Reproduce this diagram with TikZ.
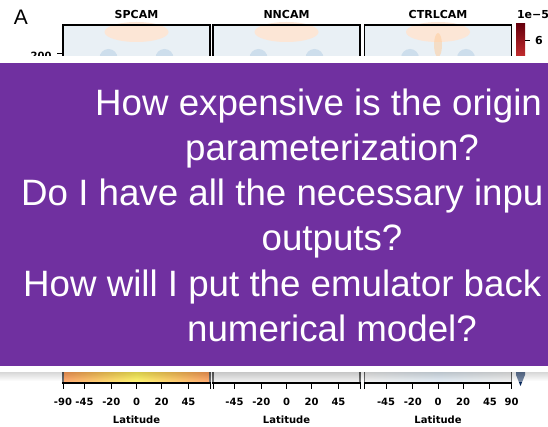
\documentclass[tikz,border=0pt]{standalone}
\usepackage{fontspec}
\setmainfont{Liberation Sans}
\newfontfamily\mplfont{DejaVu Sans}
\definecolor{slidepurple}{RGB}{112,48,160}
\definecolor{panelfill}{RGB}{233,240,245}
\definecolor{warmspot}{RGB}{252,230,214}
\definecolor{coolspot}{RGB}{205,222,236}
\definecolor{cbdark}{RGB}{103,0,13}
\definecolor{cbred}{RGB}{205,50,50}
\definecolor{cbblue}{RGB}{8,40,90}

\begin{document}
\begin{tikzpicture}
  [x=1pt,y=-1pt,
   panel/.style={draw=black,line width=1.3pt},
   title/.style={font=\mplfont\bfseries\fontsize{11}{13}\selectfont},
   ticklab/.style={font=\mplfont\bfseries\fontsize{10}{12}\selectfont},
   question/.style={text=white,inner sep=0pt,font=\fontsize{36.7}{44}\selectfont}]
  \useasboundingbox (0,0) rectangle (548,427);

  % the three maps
  \foreach \c in {136.5,286.5,438} {
    \fill[panelfill] (\c-73.5,25) rectangle (\c+73.5,383);
    \fill[warmspot] (\c,32) ellipse (32 and 10);
    \fill[coolspot] (\c-28,58) circle (9);
    \fill[coolspot] (\c+28,58) circle (9);
  }
  \fill[orange!40,opacity=.5] (438,45) ellipse (4 and 12);
  \shade[left color=orange!80!red,right color=orange!80!red,middle color=yellow!85!orange]
    (63,372) rectangle (210,383);
  \fill[gray!22] (213,372) rectangle (360,383);
  \shade[left color=gray!20,right color=gray!20,middle color=coolspot] (364,372) rectangle (512,383);
  \foreach \c in {136.5,286.5,438}
    \draw[panel] (\c-73.5,25) rectangle (\c+73.5,383);

  % colour bar
  \shade[top color=cbdark,bottom color=cbred] (516,24) rectangle (525,60);
  \fill[cbblue] (516,368) -- (525,368) -- (525,375) -- (520.5,386) -- (516,375) -- cycle;
  \draw[line width=1pt] (525,41) -- (530,41);
  \node[title] (cbsix) at (539,41) {6};
  \node[title] (cbexp) at (533,15) {1e−5};

  % titles
  \node[font=\fontsize{21}{24}\selectfont] (tagA) at (21,17.5) {A};
  \node[title] (spcam) at (136.5,15) {SPCAM};
  \node[title] (nncam) at (286.5,15) {NNCAM};
  \node[title] (ctrlcam) at (438,15) {CTRLCAM};
  \draw[line width=1pt] (57,54) -- (63,54);
  \node[ticklab,anchor=east] (ytick) at (55,56) {200};

  % latitude axes
  \foreach \c in {136.5,286.5,438}
    \foreach \lat in {-90,-45,-20,0,20,45,90}
      \draw[line width=1pt] ({\c+73.5*sin(\lat)},383) -- ++(0,5.5);
  \foreach \p/\c/\labs in {1/136.5/{-90,-45,-20,0,20,45},2/286.5/{-45,-20,0,20,45},3/438/{-45,-20,0,20,45,90}} {
    \foreach \lat in \labs
      \node[ticklab] (t\p\lat) at ({\c+73.5*sin(\lat)},402) {\lat};
    \node[ticklab] (lat\p) at (\c,420) {Latitude};
  }

  % slide box on top
  \fill[white] (0,56) rectangle (548,372);
  \shade[top color=black!35,bottom color=white,opacity=.45] (0,372) rectangle (548,381);
  \fill[slidepurple] (0,63) rectangle (548,366);
  \node[question,anchor=base west] (q1) at (95,116) {How expensive is the origin};
  \node[question,anchor=base] (q2) at (332,161) {parameterization?};
  \node[question,anchor=base west] (q3) at (21,206) {Do I have all the necessary inpu};
  \node[question,anchor=base] (q4) at (332,251) {outputs?};
  \node[question,anchor=base west] (q5) at (23,296) {How will I put the emulator back};
  \node[question,anchor=base] (q6) at (332,341) {numerical model?};
\end{tikzpicture}
\end{document}
